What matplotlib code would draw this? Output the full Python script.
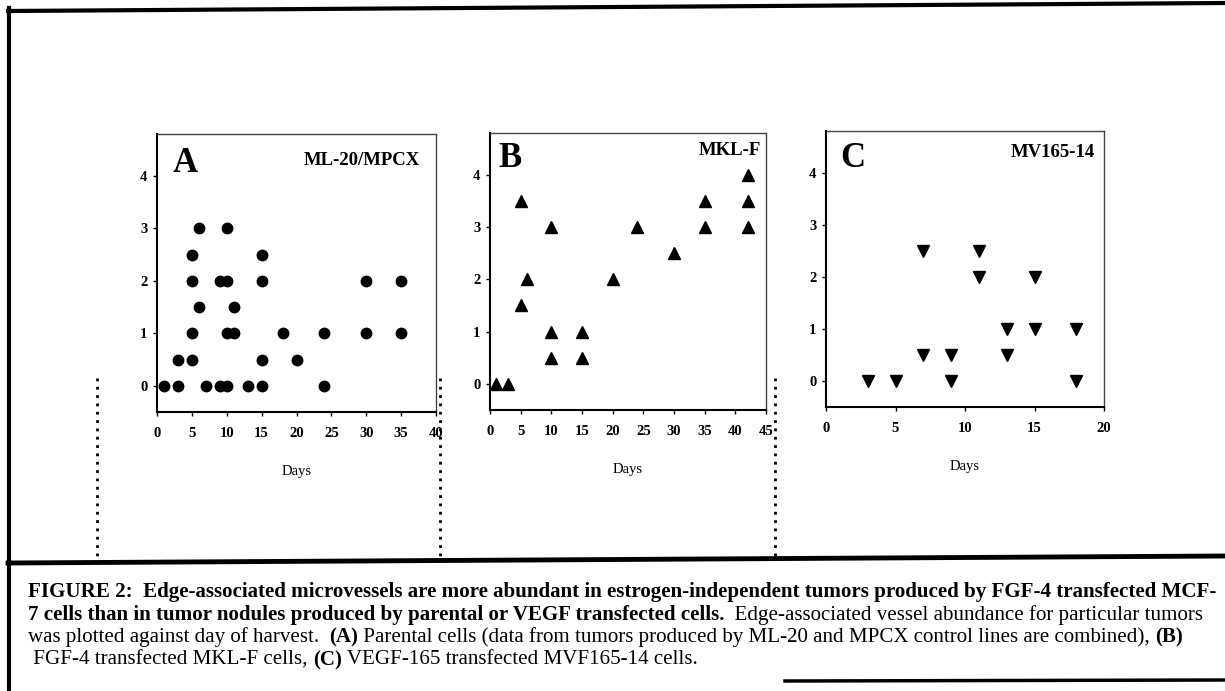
import matplotlib.pyplot as plt
from matplotlib.lines import Line2D

plt.rcParams['font.family'] = ['Liberation Serif', 'DejaVu Serif']

# (A) ML-20/MPCX parental cells
a_days = [1, 3, 3, 5, 5, 5, 5, 6, 6, 7, 9, 9, 10, 10, 10, 10, 11, 11, 13,
          15, 15, 15, 15, 18, 20, 24, 24, 30, 30, 35, 35]
a_vessels = [0, 0, 0.5, 0.5, 1, 2, 2.5, 3, 1.5, 0, 0, 2, 0, 2, 3, 1, 1, 1.5, 0,
             0, 0.5, 2, 2.5, 1, 0.5, 0, 1, 1, 2, 1, 2]

# (B) MKL-F, FGF-4 transfected
b_days = [1, 3, 5, 5, 6, 10, 10, 10, 15, 15, 20, 24, 30, 35, 35, 42, 42, 42]
b_vessels = [0, 0, 3.5, 1.5, 2, 3, 1, 0.5, 1, 0.5, 2, 3, 2.5, 3.5, 3, 4, 3.5, 3]

# (C) MV165-14, VEGF transfected
c_days = [3, 5, 7, 7, 9, 9, 11, 11, 13, 13, 15, 15, 18, 18]
c_vessels = [0, 0, 2.5, 0.5, 0.5, 0, 2.5, 2, 1, 0.5, 2, 1, 1, 0]

W, H = 1225, 691
fig = plt.figure(figsize=(W / 100, H / 100), dpi=100)


def px_axes(left, top, right, bottom):
    return fig.add_axes([left / W, 1 - bottom / H, (right - left) / W, (bottom - top) / H])


panels = [
    (px_axes(157, 134, 436, 412), a_days, a_vessels, 'o', 7.5, 40, 'A', 'ML-20/MPCX',
     (0.057, 0.863), (0.943, 0.888)),
    (px_axes(490, 133, 766, 410), b_days, b_vessels, '^', 8, 45, 'B', 'MKL-F',
     (0.029, 0.877), (0.982, 0.92)),
    (px_axes(826, 131, 1104, 407), c_days, c_vessels, 'v', 8, 20, 'C', 'MV165-14',
     (0.05, 0.87), (0.968, 0.906)),
]

for ax, xs, ys, mk, ms, xmax, letter, name, lpos, npos in panels:
    ax.plot(xs, ys, linestyle='none', marker=mk, markersize=ms, color='black')
    ax.set_xlim(0, xmax)
    ax.set_ylim(-0.5, 4.8)
    ax.set_xticks(range(0, xmax + 1, 5))
    ax.set_yticks(range(0, 5))
    ax.tick_params(direction='out', length=3, width=1, labelsize=10.5, colors='black')
    ax.tick_params(axis='x', pad=8)
    ax.tick_params(axis='y', pad=4)
    for lab in ax.get_xticklabels() + ax.get_yticklabels():
        lab.set_fontweight('bold')
    for side in ['left', 'bottom']:
        ax.spines[side].set_linewidth(1.5)
    for side in ['top', 'right']:
        ax.spines[side].set_linewidth(1.0)
        ax.spines[side].set_color('#444444')
    ax.set_xlabel('Days', fontsize=10.5, labelpad=18)
    ax.text(lpos[0], lpos[1], letter, transform=ax.transAxes, fontsize=25,
            fontweight='bold', ha='left', va='baseline')
    ax.text(npos[0], npos[1], name, transform=ax.transAxes, fontsize=13.5,
            fontweight='bold', ha='right', va='baseline')


def fig_line(x0, y0, x1, y1, **kw):
    fig.add_artist(Line2D([x0 / W, x1 / W], [1 - y0 / H, 1 - y1 / H],
                          transform=fig.transFigure, color='black', **kw))


# frame around figure + caption box
fig_line(8, 11, 1225, 3, lw=3)
fig_line(9, 8, 9, 691, lw=3)
fig_line(8, 563, 1225, 556, lw=3.5)
fig_line(785, 681, 1225, 680, lw=2.5)

# dotted guide lines between panels
for xp in [97, 440, 775]:
    fig_line(xp, 378, xp, 560, lw=2, linestyle=(0, (1, 2)))

# caption with mixed bold/normal runs
r = fig.canvas.get_renderer()


def seg_width(s, fs, weight):
    t1 = fig.text(0, 0, '|' + s + '|', fontsize=fs, fontweight=weight)
    t2 = fig.text(0, 0, '||', fontsize=fs, fontweight=weight)
    w = t1.get_window_extent(r).width - t2.get_window_extent(r).width
    t1.remove()
    t2.remove()
    return w


line1 = ('FIGURE 2:  Edge-associated microvessels are more abundant in estrogen-independent '
         'tumors produced by FGF-4 transfected MCF-')
fs = 10 * (1222 - 28) / seg_width(line1, 10, 'bold')

caption = [
    (592, [(line1, 'bold')]),
    (615, [('7 cells than in tumor nodules produced by parental or VEGF transfected cells.', 'bold'),
           ('  Edge-associated vessel abundance for particular tumors', 'normal')]),
    (637, [('was plotted against day of harvest.  ', 'normal'), ('(A)', 'bold'),
           (' Parental cells (data from tumors produced by ML-20 and MPCX control lines are combined), ',
            'normal'), ('(B)', 'bold')]),
    (660, [(' FGF-4 transfected MKL-F cells, ', 'normal'), ('(C)', 'bold'),
           (' VEGF-165 transfected MVF165-14 cells.', 'normal')]),
]

for yb, parts in caption:
    x = 28
    for s, w in parts:
        fig.text(x / W, 1 - yb / H, s, fontsize=fs, fontweight=w, va='center', ha='left')
        x += seg_width(s, fs, w)

fig.savefig('out.png', dpi=100)
